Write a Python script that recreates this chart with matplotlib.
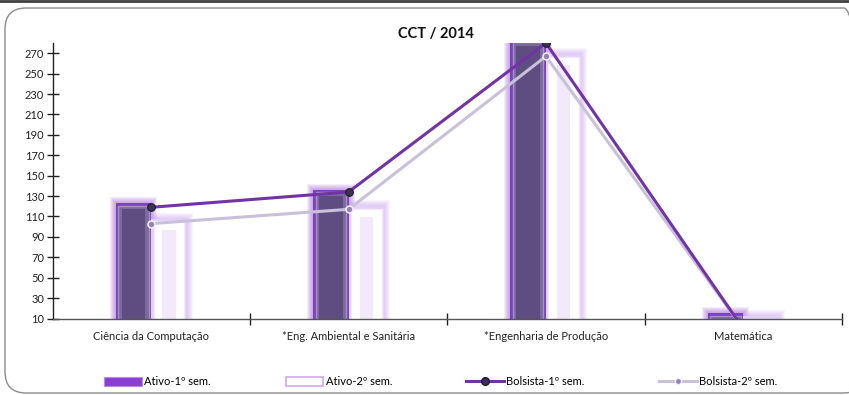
import matplotlib
matplotlib.use("Agg")
import matplotlib.pyplot as plt
from matplotlib.patches import Rectangle, FancyBboxPatch, Patch
from matplotlib.lines import Line2D
import numpy as np

plt.rcParams['font.family'] = ['Lato', 'DejaVu Sans']

# Data
categories = ["Ciência da Computação", "*Eng. Ambiental e Sanitária",
              "*Engenharia de Produção", "Matemática"]
ativo_1 = [123, 136, 283, 15]
ativo_2 = [108, 120, 269, 12]
bolsista_1 = [119, 134, 280, 0]
bolsista_2 = [103, 117, 267, 0]
series_labels = ["Ativo-1º sem.", "Ativo-2º sem.", "Bolsista-1º sem.", "Bolsista-2º sem."]
y_ticks = list(range(10, 271, 20))
title = "CCT / 2014"

W, H = 849, 395
fig = plt.figure(figsize=(W / 100, H / 100), dpi=100)
fig.patch.set_facecolor("white")

# Outer frame and top rule
frame = FancyBboxPatch((5 / W, 2 / H), 860 / W, 385 / H,
                       boxstyle="round,pad=0,rounding_size=0.025",
                       transform=fig.transFigure, facecolor="none",
                       edgecolor="#8c8c8c", lw=1.0, mutation_aspect=W / H)
fig.add_artist(frame)
fig.add_artist(Line2D([0, 1], [1 - 1 / H, 1 - 1 / H], transform=fig.transFigure,
                      color="#404040", lw=2.0))

left, right = 52.5, 842
top, bottom = 43, 318.5
ax = fig.add_axes([left / W, (H - bottom) / H, (right - left) / W, (bottom - top) / H])
ax.set_xlim(-0.5, len(categories) - 0.5)
ax.set_ylim(10, 280)

x = np.arange(len(categories))
bw = 0.18

# pixel -> data unit conversion
px_x = (ax.transData.transform((1, 0))[0] - ax.transData.transform((0, 0))[0])
px_y = (ax.transData.transform((0, 1))[1] - ax.transData.transform((0, 0))[1])
ux, uy = 1.0 / px_x, 1.0 / px_y


def glow_bar(xc, val, glow, inner_face, inner_edge, core, core_inset):
    x0 = xc - bw / 2
    for k in range(1, 7):
        ax.add_patch(Rectangle((x0 - k * ux, 0), bw + 2 * k * ux, val + k * uy,
                               facecolor=glow, edgecolor="none", alpha=0.11, zorder=1))
    i1 = 2.5
    ax.add_patch(Rectangle((x0 + i1 * ux, 0), bw - 2 * i1 * ux, val - i1 * uy,
                           facecolor=inner_face, edgecolor=inner_edge, lw=1.0, zorder=2.2))
    ci = core_inset
    ax.add_patch(Rectangle((x0 + ci * ux, 0), bw - 2 * ci * ux, max(val - ci * uy, 0),
                           facecolor=core, edgecolor="none", zorder=2.4))


ax.bar(x - bw / 2, ativo_1, width=bw, bottom=0, color="#7d3fc4", zorder=2)
ax.bar(x + bw / 2, ativo_2, width=bw, bottom=0, color="#e3cff9", zorder=2)
for xi, v in zip(x, ativo_1):
    glow_bar(xi - bw / 2, v, "#9a5ad4", "#7b6a9c", "#a392c2", "#5f4d82", 6)
for xi, v in zip(x, ativo_2):
    glow_bar(xi + bw / 2, v, "#c9a3f0", "#ffffff", "#f3ebfd", "#f2eafb", 11)

ax.plot(x, bolsista_2, color="#c9c1da", lw=2.2, marker="o", ms=5,
        markerfacecolor="#9482b4", markeredgecolor="#f4f0fa", markeredgewidth=1.1, zorder=4)
ax.plot(x, bolsista_1, color="#7233a6", lw=2.2, marker="o", ms=5.5,
        markerfacecolor="#3d3150", markeredgecolor="#1e1a26", markeredgewidth=0.8, zorder=5)

# Axes styling
for s in ["top", "right"]:
    ax.spines[s].set_visible(False)
ax.spines["left"].set_color("#222222")
ax.spines["bottom"].set_color("#555555")
ax.spines["left"].set_linewidth(1.0)
ax.spines["bottom"].set_linewidth(1.0)
ax.set_yticks(y_ticks)
ax.tick_params(axis="y", direction="inout", length=8, width=1, colors="#222222",
               labelsize=8, pad=2)
ax.set_xticks(np.arange(0.5, len(categories) - 0.4, 1.0))
ax.set_xticks(x, minor=True)
ax.set_xticklabels([])
ax.set_xticklabels(categories, minor=True)
ax.tick_params(axis="x", which="major", direction="inout", length=8, width=1, colors="#222222")
ax.tick_params(axis="x", which="minor", length=0, labelsize=8, pad=9, labelcolor="#222222")
ax.set_facecolor("none")

fig.text(436 / W, 1 - 34 / H, title, ha="center", va="center", fontsize=10.5,
         fontweight="bold", color="#111111")

handles = [
    Patch(facecolor="#8a3fd2", edgecolor="#b68be6", lw=0.8),
    Patch(facecolor="white", edgecolor="#cfa9f5", lw=1.2),
    Line2D([], [], color="#7233a6", lw=2.2, marker="o", ms=5.5,
           markerfacecolor="#3d3150", markeredgecolor="#1e1a26"),
    Line2D([], [], color="#c9c1da", lw=2.2, marker="o", ms=4.5,
           markerfacecolor="#9482b4", markeredgecolor="#f4f0fa"),
]
fig.legend(handles, series_labels, loc="center left", ncol=4, mode="expand",
           bbox_to_anchor=(100 / W, 1 - 382 / H, 682 / W, 0.001), frameon=False,
           fontsize=8, handlelength=3.4, handletextpad=0.2, handleheight=0.8,
           borderaxespad=0)

fig.savefig("out.png", dpi=100, facecolor="white")
